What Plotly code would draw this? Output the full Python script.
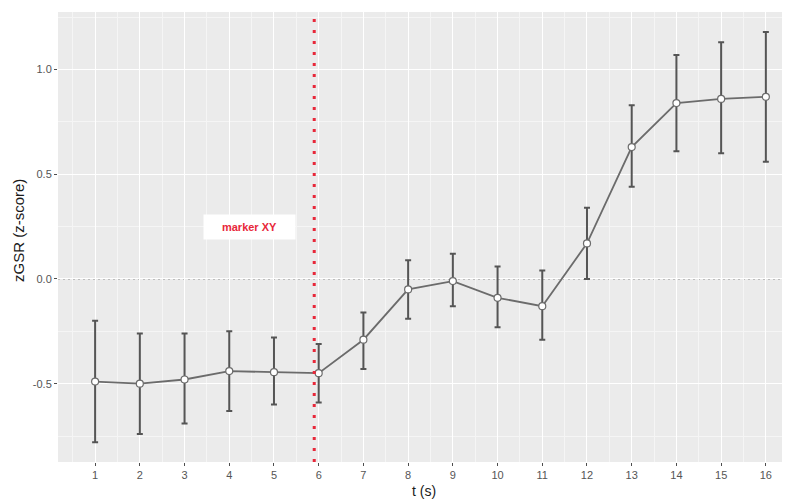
import plotly.graph_objects as go

t = list(range(1, 17))
zgsr = [-0.49, -0.50, -0.48, -0.44, -0.445, -0.45, -0.29, -0.05, -0.01, -0.09, -0.13, 0.17, 0.63, 0.84, 0.86, 0.87]
upper = [-0.20, -0.26, -0.26, -0.25, -0.28, -0.31, -0.16, 0.09, 0.12, 0.06, 0.04, 0.34, 0.83, 1.07, 1.13, 1.18]
lower = [-0.78, -0.74, -0.69, -0.63, -0.60, -0.59, -0.43, -0.19, -0.13, -0.23, -0.29, 0.00, 0.44, 0.61, 0.60, 0.56]
marker_t = 5.9
label_text = "marker XY"
label_x = 4.45
label_y = 0.248
x_title = "t (s)"
y_title = "zGSR (z-score)"

err_plus = [u - v for u, v in zip(upper, zgsr)]
err_minus = [v - l for v, l in zip(zgsr, lower)]

fig = go.Figure()
fig.add_trace(go.Scatter(
    x=t, y=zgsr, mode="lines+markers",
    line=dict(color="#6b6b6b", width=1.8),
    marker=dict(size=7, color="white", line=dict(color="#6b6b6b", width=1.2)),
    error_y=dict(type="data", symmetric=False, array=err_plus, arrayminus=err_minus,
                 color="#555555", thickness=2, width=3),
    showlegend=False,
))

fig.add_shape(type="line", xref="paper", yref="y", x0=0, x1=1, y0=0, y1=0,
              line=dict(color="#8a8a8a", width=1, dash="2px,3px"), layer="below")
fig.add_shape(type="line", xref="x", yref="paper", x0=marker_t, x1=marker_t, y0=0, y1=1,
              line=dict(color="#e8283a", width=3, dash="3px,8px"))

fig.add_annotation(x=label_x, y=label_y, xref="x", yref="y", text="<b>" + label_text + "</b>",
                   showarrow=False, bgcolor="white", width=91, height=24, borderpad=0,
                   font=dict(family="Liberation Sans, Arial, sans-serif", size=11, color="#e8283a"))

fig.add_annotation(x=0.5, y=0, xref="paper", yref="paper", yshift=-29, text=x_title,
                   showarrow=False, xanchor="center", yanchor="middle",
                   font=dict(size=14, color="#1a1a1a"))
fig.add_annotation(x=0, y=0.5, xref="paper", yref="paper", xshift=-40, yshift=6, text=y_title,
                   showarrow=False, textangle=-90, xanchor="center", yanchor="middle",
                   font=dict(size=15, color="#1a1a1a"))

fig.update_layout(
    width=782, height=492,
    margin=dict(l=50, r=0, t=4, b=38, autoexpand=False),
    paper_bgcolor="white", plot_bgcolor="#EBEBEB",
    font=dict(family="Liberation Sans, Arial, sans-serif"),
)
fig.update_xaxes(
    range=[0.17, 16.54], tickmode="linear", tick0=1, dtick=1, automargin=False,
    showgrid=True, gridcolor="white", gridwidth=1.2, zeroline=False,
    minor=dict(dtick=0.5, tick0=0.5, showgrid=True, gridcolor="#F5F5F5", gridwidth=0.6),
    ticks="outside", ticklen=3, tickcolor="#4d4d4d", tickwidth=1,
    tickfont=dict(size=11, color="#555555"),
)
fig.update_yaxes(
    range=[-0.874, 1.275], tickmode="array", tickvals=[-0.5, 0.0, 0.5, 1.0],
    ticktext=["-0.5", "0.0", "0.5", "1.0"], automargin=False,
    showgrid=True, gridcolor="white", gridwidth=1.2, zeroline=False,
    minor=dict(dtick=0.25, tick0=0, showgrid=True, gridcolor="#F5F5F5", gridwidth=0.6),
    ticks="outside", ticklen=3, tickcolor="#4d4d4d", tickwidth=1,
    tickfont=dict(size=11, color="#555555"),
)

fig.write_html("out.html")
